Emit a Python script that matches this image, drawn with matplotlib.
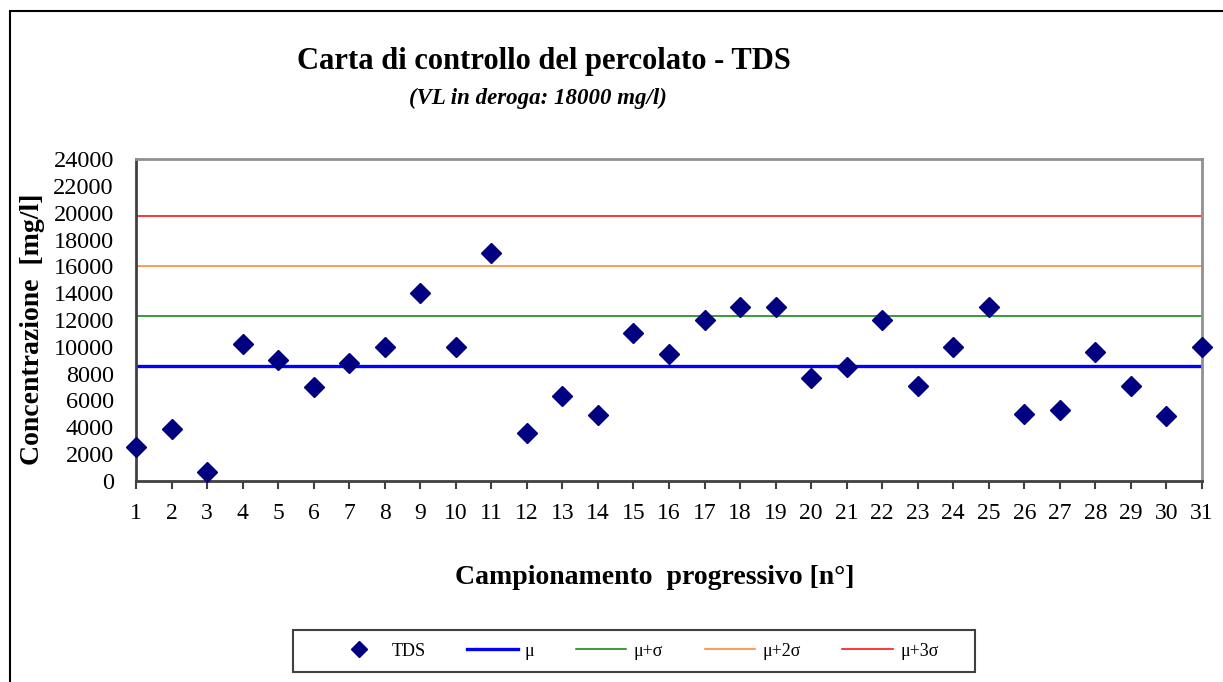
import matplotlib.pyplot as plt
from matplotlib.patches import Rectangle
from matplotlib.lines import Line2D

# campioni progressivi e concentrazioni TDS (mg/l)
campioni = list(range(1, 32))
tds = [2550, 3900, 650, 10200, 9000, 7000, 8800, 10000, 14000, 10000,
       17000, 3600, 6300, 4900, 11000, 9500, 12000, 13000, 13000, 7650,
       8500, 12000, 7100, 10000, 13000, 5000, 5300, 9600, 7100, 4850, 10000]

# limiti di controllo
limiti_nomi = ['μ', 'μ+σ', 'μ+2σ', 'μ+3σ']
limiti_valori = [8570, 12330, 16020, 19740]
limiti_colori = ['#0000FF', '#008000', '#FF7F27', '#FF0000']
limiti_spessori = [2.4, 1.1, 1.1, 1.1]

y_ticks = list(range(0, 24001, 2000))

plt.rcParams['font.family'] = ['Liberation Serif', 'DejaVu Serif']

fig = plt.figure(figsize=(12.23, 6.82), dpi=100)
ax = fig.add_axes([136 / 1223, 1 - 481 / 682, 1066 / 1223, 322 / 682])

for nome, val, col, lw in zip(limiti_nomi, limiti_valori, limiti_colori, limiti_spessori):
    ax.axhline(val, color=col, linewidth=lw, zorder=2)

ax.plot(campioni, tds, linestyle='none', marker='D', markersize=10.5,
        color='#000080', clip_on=False, zorder=3)

ax.set_xlim(1, 31)
ax.set_ylim(0, 24000)
ax.set_xticks(campioni)
ax.set_xticklabels([str(c) for c in campioni], fontsize=17)
ax.set_yticks(y_ticks)
ax.set_yticklabels([str(v) for v in y_ticks], fontsize=17.5)
ax.tick_params(axis='y', length=0, pad=16)
ax.tick_params(axis='x', direction='out', length=6, width=1.5, color='#404040', pad=10)

for side in ['top', 'right']:
    ax.spines[side].set_color('#909090')
    ax.spines[side].set_linewidth(2)
for side in ['left', 'bottom']:
    ax.spines[side].set_color('#404040')
    ax.spines[side].set_linewidth(2)

fig.text(544 / 1223, 1 - 61 / 682, 'Carta di controllo del percolato - TDS',
         fontsize=22, fontweight='bold', ha='center', va='center')
fig.text(538 / 1223, 1 - 98 / 682, '(VL in deroga: 18000 mg/l)',
         fontsize=16.5, fontweight='bold', style='italic', ha='center', va='center')
fig.text(33 / 1223, 1 - 329 / 682, 'Concentrazione  [mg/l]', rotation=90,
         fontsize=20, fontweight='bold', ha='center', va='center')
fig.text(655 / 1223, 1 - 577 / 682, 'Campionamento  progressivo [n°]',
         fontsize=20, fontweight='bold', ha='center', va='center')

handles = [Line2D([], [], linestyle='none', marker='D', markersize=8, color='#000080')]
for val, col, lw in zip(limiti_valori, limiti_colori, limiti_spessori):
    handles.append(Line2D([], [], color=col, linewidth=lw))
labels = ['TDS'] + limiti_nomi
fig.legend(handles, labels, ncol=5, loc='center',
           bbox_to_anchor=(636 / 1223, 1 - 651 / 682),
           fontsize=13, frameon=False, handlelength=2.8,
           columnspacing=2.3, handletextpad=0.4)

# riquadro della legenda
fig.patches.append(Rectangle((293 / 1223, 1 - 672 / 682), 682 / 1223, 42 / 682,
                             transform=fig.transFigure, fill=False,
                             edgecolor='#404040', linewidth=1.5))

# cornice esterna del grafico
fig.patches.append(Rectangle((10 / 1223, -0.05), 1.1, 1 - 11 / 682 + 0.05,
                             transform=fig.transFigure, fill=False,
                             edgecolor='black', linewidth=1.5))

plt.savefig('out.png', dpi=100)
